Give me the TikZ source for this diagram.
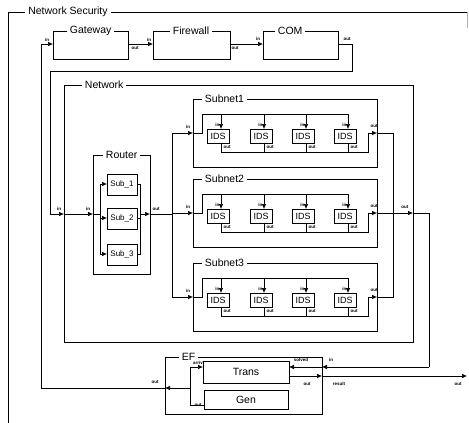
\documentclass[tikz,border=0pt]{standalone}
\usepackage{fontspec}
\setmainfont{Liberation Sans}
\usetikzlibrary{arrows.meta,calc}

\begin{document}
\begin{tikzpicture}[x=1pt,y=-1pt,line width=0.6pt,
  every node/.style={inner sep=0pt},
  frame/.style={draw,line width=0.7pt},
  atom/.style={draw,line width=0.7pt,font=\fontsize{10.5}{12}\selectfont},
  small/.style={draw,line width=0.7pt,font=\fontsize{8}{9}\selectfont},
  title/.style={anchor=west,fill=white,inner xsep=3pt,inner ysep=1pt,font=\fontsize{10.5}{12}\selectfont},
  lbl/.style={font=\fontsize{4.5}{5}\selectfont\bfseries,inner sep=0.3pt},
  tip/.style={-{Latex[length=5pt,width=4.5pt]}}]

\useasboundingbox (0,0) rectangle (469,423);

% ---------- outer coupled model ----------
\draw[frame] (8,423) -- (8,12) -- (467,12);
\draw[line width=0.4pt,gray!60] (467,12) -- (467,28);
\node[title] (ostitle) at (25,12) {Network Security};
\coordinate (os-out) at (467,376);

% ---------- top chain ----------
\node[atom,minimum width=75pt,minimum height=28pt] (gateway) at (90.5,45) {};
\node[title] at ([xshift=14pt]gateway.north west) {Gateway};
\node[atom,minimum width=77pt,minimum height=28pt] (firewall) at (191.5,45) {};
\node[title] at ([xshift=17pt]firewall.north west) {Firewall};
\node[atom,minimum width=75pt,minimum height=28pt] (com) at (300.5,45) {};
\node[title] at ([xshift=12pt]com.north west) {COM};

\coordinate (gw-in) at (53,44);   \coordinate (gw-out) at (128,44);
\coordinate (fw-in) at (153,44);  \coordinate (fw-out) at (230,44);
\coordinate (com-in) at (263,44); \coordinate (com-out) at (338,44);

\node[lbl] at (47,40) {in};   \node[lbl] at (135,48) {out};
\node[lbl] at (149,40) {in};  \node[lbl] at (235,48) {out};
\node[lbl] at (258,39) {in};  \node[lbl] at (347,39) {out};

% ---------- Network ----------
\node[frame,minimum width=349pt,minimum height=257pt] (network) at (238.5,213.5) {};
\node[title] at ([xshift=18pt]network.north west) {Network};
\coordinate (net-in) at (64,214);
\coordinate (net-out) at (413,213);
\node[lbl] at (59,209) {in};
\node[lbl,anchor=east] at (409,207) {out};

% ---------- Router ----------
\node[frame,minimum width=57pt,minimum height=119pt] (router) at (121.5,214.5) {};
\node[title] at ([xshift=10pt]router.north west) {Router};
\node[small,minimum width=30pt,minimum height=21pt] (sub1) at (122,184.5) {Sub\_1};
\node[small,minimum width=30pt,minimum height=21pt] (sub2) at (122,218.5) {Sub\_2};
\node[small,minimum width=30pt,minimum height=21pt] (sub3) at (122,254.5) {Sub\_3};
\coordinate (rt-in) at (93,214);
\coordinate (rt-out) at (150,214);
\node[lbl] at (88,209) {in};
\node[lbl] at (156,209) {out};

% ---------- Subnets with IDS units ----------
\foreach \s/\c in {1/133,2/213,3/297}{
  \node[frame,minimum width=184pt,minimum height=68pt] (subnet\s) at (285,\c) {};
  \node[title] at ([xshift=9pt]subnet\s.north west) {Subnet\s};
  \coordinate (sn\s-in) at (193,\c);
  \coordinate (sn\s-out) at (377,\c);
  \node[lbl] at (188,{\c-6}) {in};
  \node[lbl] at (374,{\c-7}) {out};
  % input bus
  \draw (sn\s-in) -- (202,\c) -- (202,{\c-19}) -- (348,{\c-19});
  % output collector
  \draw (221,{\c+19}) -- (368,{\c+19}) -- (368,\c);
  \draw[tip] (368,\c) -- (sn\s-out);
  \foreach \k/\x in {1/218,2/261,3/303,4/345}{
    \node[small,font=\fontsize{9}{10}\selectfont,minimum width=22pt,minimum height=14pt] (ids\s\k) at (\x,{\c+3}) {IDS};
    \draw[tip] ({\x+3},{\c-19}) -- ({\x+3},{\c-4});
    \draw ({\x+3},{\c+10}) -- ({\x+3},{\c+19});
    \node[lbl,anchor=east] at ({\x+2},{\c-8}) {in};
    \node[lbl,anchor=west] at ({\x+5},{\c+14}) {out};
  }
  % router to subnet
  \draw[tip] (172,\c) -- (sn\s-in);
}

% ---------- EF ----------
\node[frame,minimum width=157pt,minimum height=57pt] (ef) at (243.5,385.5) {};
\node[title] at ([xshift=14pt]ef.north west) {EF};
\node[atom,minimum width=86pt,minimum height=22pt] (trans) at (246,372) {Trans};
\node[atom,minimum width=84pt,minimum height=19pt] (gen) at (246,399.5) {Gen};
\coordinate (trans-arriv) at (203,367);
\coordinate (trans-solved) at (289,367);
\coordinate (trans-out) at (289,376);
\coordinate (gen-out) at (204,405);
\coordinate (ef-in) at (322,367);
\coordinate (ef-result) at (322,376);
\coordinate (ef-out) at (165,388);

\node[lbl] at (198,363) {arriv};
\node[lbl] at (198,405) {out};
\node[lbl] at (301,360) {solved};
\node[lbl] at (331,360) {in};
\node[lbl] at (307,384) {out};
\node[lbl] at (339,384) {result};
\node[lbl] at (155,382) {out};
\node[lbl] at (458,384) {out};

% ---------- connectors ----------
% top chain
\draw[tip] (gw-out) -- (fw-in);
\draw[tip] (fw-out) -- (com-in);
\draw (com-out) -- (352,44) -- (352,71) -- (50,71) -- (50,214);
\draw[tip] (50,214) -- (net-in);
\draw[tip] (net-in) -- (rt-in);

% inside router
\draw (rt-in) -- (100,214);
\draw (100,184) -- (100,254);
\draw[tip] (100,184) -- (107,184);
\draw[tip] (100,218) -- (107,218);
\draw[tip] (100,254) -- (107,254);
\draw (137,184) -- (140,184) -- (140,254) -- (137,254);
\draw (137,218) -- (140,218);
\draw[tip] (140,214) -- (rt-out);
\draw (rt-out) -- (172,214);
\draw (172,133) -- (172,297);

% subnet outputs
\draw (sn1-out) -- (393,133) -- (393,297) -- (sn3-out);
\draw[tip] (sn2-out) -- (net-out);
\draw (net-out) -- (429,213) -- (429,367);
\draw[tip] (429,367) -- (ef-in);
\draw[tip] (ef-in) -- (trans-solved);

% EF internals and outputs
\draw[tip] (trans-out) -- (ef-result);
\draw[tip] (ef-result) -- (os-out);
\draw (gen-out) -- (190,405) -- (190,367);
\draw[tip] (190,367) -- (trans-arriv);
\draw[tip] (190,388) -- (ef-out);
\draw (ef-out) -- (41,388) -- (41,44);
\draw[tip] (41,44) -- (gw-in);

\end{tikzpicture}
\end{document}
